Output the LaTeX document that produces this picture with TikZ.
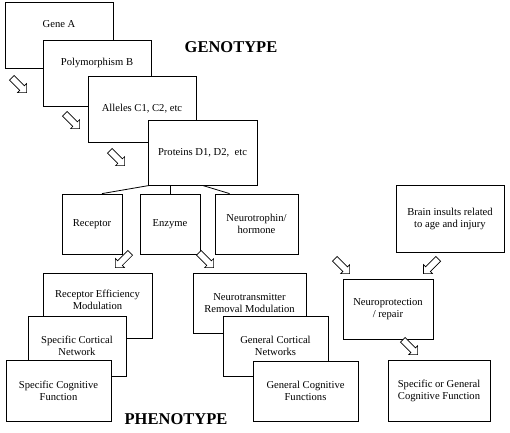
\documentclass[tikz,border=0pt]{standalone}
\usepackage{fontspec}
\setmainfont{Liberation Serif}
\usetikzlibrary{shapes.arrows}

\tikzset{
  box/.style={draw, fill=white, line width=0.8pt, align=center, inner sep=2pt,
    font=\fontsize{10.6}{12}\selectfont},
  blockarrow/.style={draw, fill=white, line width=0.7pt, single arrow, inner xsep=0pt, inner ysep=3pt,
    minimum height=21pt, minimum width=12pt, single arrow head extend=3pt},
  title/.style={font=\fontsize{16.5}{18}\selectfont\bfseries}
}

\begin{document}
\begin{tikzpicture}[x=1pt, y=-1pt]
\useasboundingbox (0,0) rectangle (510,432);
\node[box, minimum width=108pt, minimum height=66pt, text depth=22pt] (geneA) at (59,35) {Gene A};
\node[box, minimum width=108pt, minimum height=66pt, text depth=22pt] (polyB) at (97,73) {Polymorphism B};
\node[box, minimum width=108pt, minimum height=66pt] (alleles) at (142,109) {Alleles C1, C2, etc};
\node[box, minimum width=109pt, minimum height=65pt] (proteins) at (202.5,152.5) {Proteins D1, D2,~ etc};
\node[title] (genotype) at (231,47) {GENOTYPE};
\node[blockarrow, rotate=-45] (arrA) at (18,84) {};
\node[blockarrow, rotate=-45] (arrB) at (71,120) {};
\node[blockarrow, rotate=-45] (arrC) at (116,157) {};

\node[box, minimum width=60pt, minimum height=60pt] (receptor) at (92,224) {Receptor};
\node[box, minimum width=60pt, minimum height=60pt] (enzyme) at (170,224) {Enzyme};
\node[box, minimum width=83pt, minimum height=60pt] (neurotrophin) at (256.5,224) {Neurotrophin/\\hormone};
\draw[line width=0.8pt] ([xshift=2pt]proteins.south west) -- ([xshift=10pt]receptor.north);
\draw[line width=0.8pt] (proteins.south -| enzyme.north) -- (enzyme.north);
\draw[line width=0.8pt] (proteins.south) -- ([xshift=15pt]neurotrophin.north west);
\node[box, minimum width=108pt, minimum height=67pt] (insults) at (450,218.5) {Brain insults related\\to age and injury};

\node[blockarrow, rotate=-135] (arrD) at (124,259) {};
\node[blockarrow, rotate=-45] (arrE) at (205,259) {};
\node[blockarrow, rotate=-45] (arrF) at (341,265) {};
\node[blockarrow, rotate=-135] (arrG) at (432,265) {};

\node[box, minimum width=109pt, minimum height=65pt, text depth=12pt] (efficiency) at (97.5,305.5) {Receptor Efficiency\\Modulation};
\node[box, minimum width=98pt, minimum height=60pt] (specCortical) at (77,346) {Specific Cortical\\Network};
\node[box, minimum width=105pt, minimum height=61pt] (specCognitive) at (58.5,390.5) {Specific Cognitive\\Function};

\node[box, minimum width=113pt, minimum height=60pt] (removal) at (249.5,303) {Neurotransmitter\\Removal Modulation};
\node[box, minimum width=105pt, minimum height=60pt] (genCortical) at (275.5,346) {General Cortical\\Networks};
\node[box, minimum width=105pt, minimum height=60pt] (genCognitive) at (305.5,391) {General Cognitive\\Functions};

\node[box, minimum width=90pt, minimum height=60pt] (protection) at (388,309) {Neuroprotection\\/ repair};
\node[blockarrow, rotate=-45] (arrH) at (409,346) {};
\node[box, minimum width=102pt, minimum height=61pt] (specGeneral) at (439,390.5) {Specific or General\\Cognitive Function};

\node[title] (phenotype) at (176,419) {PHENOTYPE};
\end{tikzpicture}
\end{document}
